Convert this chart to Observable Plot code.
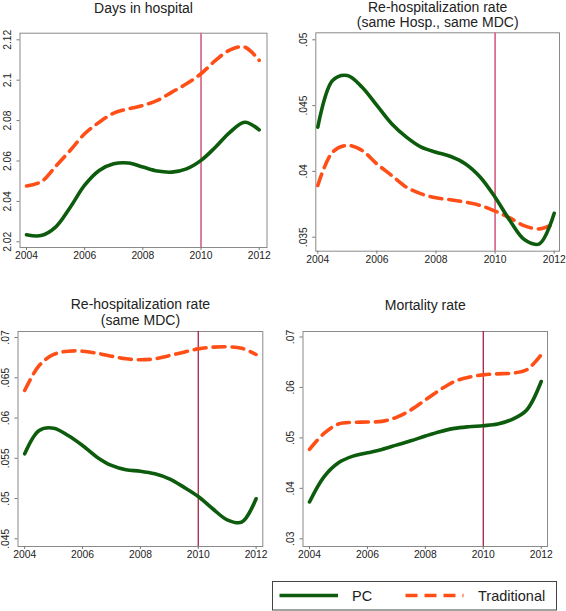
<!DOCTYPE html>
<html><head><meta charset="utf-8">
<script src="https://cdn.jsdelivr.net/npm/d3@7"></script>
<script src="https://cdn.jsdelivr.net/npm/@observablehq/plot@0.6"></script>
<style>
body{margin:0;background:#fff;}
#wrap{position:relative;width:566px;height:611px;overflow:hidden;font-family:"Liberation Sans",Arial,sans-serif;background:#fff;}
.panel{position:absolute;}
</style></head><body><div id="wrap"></div>
<script>
// ---- data ----
const years = [2004,2004.5,2005,2005.5,2006,2006.5,2007,2007.5,2008,2008.5,2009,2009.5,2010,2010.5,2011,2011.5,2012];
const xTicks = [2004,2006,2008,2010,2012];
const reformYear = 2010;
const seriesNames = ["PC","Traditional"];

const daysTitle = "Days in hospital";
const daysPC   = [2.0235,2.0231,2.0273,2.037,2.048,2.0553,2.0586,2.059,2.057,2.055,2.0545,2.0561,2.0603,2.0669,2.0743,2.0792,2.0754];
const daysTrad = [2.0476,2.0497,2.0573,2.0652,2.0735,2.0792,2.0837,2.0858,2.0875,2.09,2.0941,2.0982,2.1032,2.1098,2.115,2.1164,2.1098];
const daysTicks = [2.02,2.04,2.06,2.08,2.1,2.12];
const daysTickLabels = ["2.02","2.04","2.06","2.08","2.1","2.12"];

const rehospHospTitle = "Re-hospitalization rate\n(same Hosp., same MDC)";
const rehospHospPC   = [.04336,.04691,.04729,.0464,.04501,.04362,.0426,.04184,.04146,.04113,.04057,.03956,.03804,.03627,.0348,.0345,.03682];
const rehospHospTrad = [.03893,.04146,.04197,.04159,.04057,.03969,.0388,.03829,.03799,.03784,.03766,.03741,.03698,.03647,.03586,.03563,.03601];
const rehospHospTicks = [.035,.04,.045,.05];
const rehospHospTickLabels = [".035",".04",".045",".05"];

const rehospMdcTitle = "Re-hospitalization rate\n(same MDC)";
const rehospMdcPC   = [.05555,.05845,.05874,.05783,.05659,.05514,.05411,.05357,.0534,.05307,.05245,.05142,.05026,.04873,.04736,.04707,.04997];
const rehospMdcTrad = [.06342,.06652,.06789,.0683,.0683,.06805,.06768,.06735,.06723,.06735,.06776,.06818,.06859,.0688,.06884,.06867,.06789];
const rehospMdcTicks = [.045,.05,.055,.06,.065,.07];
const rehospMdcTickLabels = [".045",".05",".055",".06",".065",".07"];

const mortTitle = "Mortality rate";
const mortPC   = [.0373,.04227,.04506,.04638,.04705,.04771,.04857,.04943,.05036,.05123,.05189,.05222,.05242,.05275,.05368,.05554,.06118];
const mortTrad = [.04771,.05089,.05275,.05308,.05315,.05328,.05408,.05554,.05752,.05951,.06118,.06204,.0625,.0627,.06284,.0635,.06648];
const mortTicks = [.03,.04,.05,.06,.07];
const mortTickLabels = [".03",".04",".05",".06",".07"];

// ---- styles ----
const green = "#0d5c0d";
const orange = "#ff4f17";
const font = "'Liberation Sans', Arial, sans-serif";

const panels = [
  {title: daysTitle, pc: daysPC, trad: daysTrad, ticks: daysTicks, labels: daysTickLabels,
   left: 0, top: 0, w: 283, h: 275, m: [32.7, 16.5, 28, 19.5], xr: [26, 258.7], yd: [2.02, 2.12], yr: [241.3, 39.3],
   rule: "#d9708f", ruleW: 1.8, titleDy: -24.9, lh: 1.07},
  {title: rehospHospTitle, pc: rehospHospPC, trad: rehospHospTrad, ticks: rehospHospTicks, labels: rehospHospTickLabels,
   left: 283, top: 0, w: 283, h: 275, m: [32.3, 7, 24.3, 32.3], xr: [34.3, 270.7], yd: [.035, .05], yr: [236.7, 39.3],
   rule: "#d9708f", ruleW: 1.8, titleDy: -18.3, lh: 1.07},
  {title: rehospMdcTitle, pc: rehospMdcPC, trad: rehospMdcTrad, ticks: rehospMdcTicks, labels: rehospMdcTickLabels,
   left: 0, top: 280, w: 283, h: 285, m: [51, 20.7, 19, 17.5], xr: [24.2, 255.6], yd: [.045, .07], yr: [258.3, 57],
   rule: "#9e0f3a", ruleW: 1.2, titleDy: -19.6, lh: 1.1},
  {title: mortTitle, pc: mortPC, trad: mortTrad, ticks: mortTicks, labels: mortTickLabels,
   left: 283, top: 280, w: 283, h: 285, m: [51, 19, 19, 19.5], xr: [26, 257.7], yd: [.03, .07], yr: [258.3, 56.5],
   rule: "#9e0f3a", ruleW: 1.2, titleDy: -26.2, lh: 1.07}
];

const wrap = document.getElementById("wrap");

for (const p of panels) {
  const pcRows = years.map((y, i) => ({year: y, value: p.pc[i], series: seriesNames[0]}));
  const tradRows = years.map((y, i) => ({year: y, value: p.trad[i], series: seriesNames[1]}));
  const labelOf = new Map(p.ticks.map((t, i) => [t, p.labels[i]]));
  const chart = Plot.plot({
    width: p.w, height: p.h,
    marginTop: p.m[0], marginRight: p.m[1], marginBottom: p.m[2], marginLeft: p.m[3],
    x: {domain: [2004, 2012], range: p.xr},
    y: {domain: p.yd, range: p.yr},
    style: {fontFamily: font, fontSize: "10.3px", color: "#222", background: "transparent", overflow: "visible"},
    marks: [
      Plot.frame({stroke: "#8a8a8a", strokeWidth: 1}),
      Plot.axisX({ticks: xTicks, tickSize: 3, tickPadding: 1, tickFormat: d => String(d), stroke: "#777", label: null}),
      Plot.axisY({ticks: p.ticks, tickSize: 3, tickPadding: 6, tickRotate: -90, tickFormat: d => labelOf.get(d), stroke: "#777", label: null}),
      Plot.ruleX([reformYear], {stroke: p.rule, strokeWidth: p.ruleW}),
      Plot.line(tradRows, {x: "year", y: "value", stroke: orange, strokeWidth: 3.6, strokeDasharray: "12,7", curve: "catmull-rom"}),
      Plot.line(pcRows, {x: "year", y: "value", stroke: green, strokeWidth: 3.6, curve: "catmull-rom"}),
      Plot.text([p.title], {text: d => d, frameAnchor: "top", lineAnchor: "middle", dy: p.titleDy, fontSize: 14, lineHeight: p.lh, fill: "#222"})
    ]
  });
  chart.classList.add("panel");
  chart.style.left = p.left + "px";
  chart.style.top = p.top + "px";
  wrap.appendChild(chart);
}

// ---- legend ----
const ns = "http://www.w3.org/2000/svg";
const leg = document.createElementNS(ns, "svg");
leg.setAttribute("width", 286); leg.setAttribute("height", 30);
leg.classList.add("panel");
leg.style.left = "271.5px"; leg.style.top = "581px";
leg.innerHTML = `
  <rect x="0.5" y="0.5" width="284" height="28.5" fill="#fff" stroke="#444" stroke-width="1"/>
  <line x1="7.5" x2="66" y1="14.5" y2="14.5" stroke="${green}" stroke-width="3.6"/>
  <text x="80" y="19.5" font-family="${font}" font-size="14.5" fill="#222">${seriesNames[0]}</text>
  <line x1="133.5" x2="191.5" y1="14.5" y2="14.5" stroke="${orange}" stroke-width="3.6" stroke-dasharray="12,7"/>
  <text x="206" y="19.5" font-family="${font}" font-size="14.5" fill="#222">${seriesNames[1]}</text>`;
wrap.appendChild(leg);
</script>
</body></html>
